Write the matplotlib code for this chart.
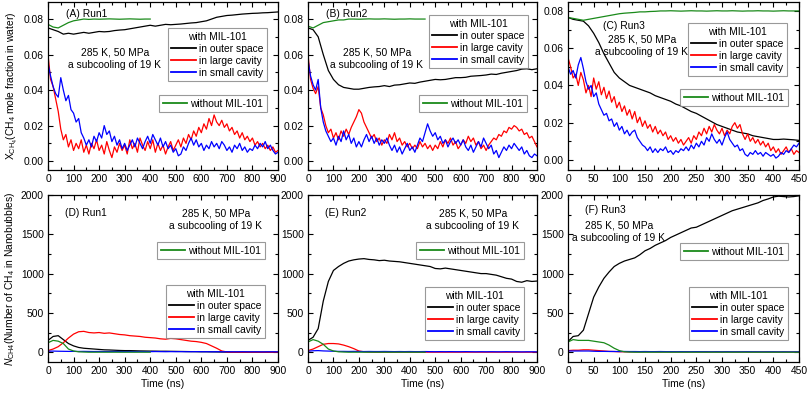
import numpy as np
import matplotlib
matplotlib.use('Agg')
import matplotlib.pyplot as plt
from matplotlib.ticker import MultipleLocator, AutoMinorLocator

plt.rcParams['font.family'] = ['Liberation Sans', 'DejaVu Sans']
plt.rcParams['mathtext.fontset'] = 'custom'
plt.rcParams['mathtext.rm'] = 'Liberation Sans'
plt.rcParams['mathtext.it'] = 'Liberation Sans:italic'
FS = 7.4

# ---------------- data ----------------
t10_900 = np.arange(0, 901, 10)
t20_900 = np.arange(0, 901, 20)
t5_450 = np.arange(0, 451, 5)
t10_450 = np.arange(0, 451, 10)
t20_400 = np.arange(0, 401, 20)
t20_460 = np.arange(0, 461, 20)

# (A) Run1, mole fraction
a_red = [0.060, 0.046, 0.042, 0.035, 0.028, 0.018, 0.012, 0.015, 0.008, 0.012,
         0.006, 0.010, 0.007, 0.012, 0.005, 0.009, 0.004, 0.010, 0.007, 0.012,
         0.006, 0.009, 0.004, 0.011, 0.006, 0.002, 0.008, 0.005, 0.010, 0.006,
         0.009, 0.004, 0.012, 0.007, 0.010, 0.005, 0.013, 0.009, 0.006, 0.011,
         0.007, 0.012, 0.005, 0.010, 0.006, 0.009, 0.004, 0.008, 0.011, 0.006,
         0.009, 0.012, 0.008, 0.013, 0.010, 0.015, 0.012, 0.017, 0.014, 0.019,
         0.016, 0.021, 0.018, 0.024, 0.020, 0.026, 0.022, 0.020, 0.023, 0.019,
         0.021, 0.017, 0.019, 0.015, 0.017, 0.013, 0.016, 0.012, 0.014, 0.011,
         0.013, 0.009, 0.011, 0.008, 0.010, 0.007, 0.009, 0.006, 0.008, 0.005, 0.006]
a_blue = [0.055, 0.048, 0.042, 0.038, 0.036, 0.047, 0.040, 0.034, 0.037, 0.029,
          0.027, 0.022, 0.024, 0.016, 0.013, 0.009, 0.012, 0.008, 0.014, 0.011,
          0.016, 0.013, 0.020, 0.015, 0.017, 0.011, 0.014, 0.009, 0.012, 0.007,
          0.010, 0.006, 0.009, 0.012, 0.008, 0.013, 0.010, 0.007, 0.011, 0.014,
          0.010, 0.015, 0.012, 0.009, 0.013, 0.008, 0.011, 0.007, 0.009, 0.005,
          0.007, 0.003, 0.004, 0.008, 0.006, 0.010, 0.013, 0.009, 0.012, 0.008,
          0.010, 0.006, 0.009, 0.007, 0.011, 0.008, 0.010, 0.007, 0.011, 0.009,
          0.006, 0.008, 0.005, 0.009, 0.007, 0.010, 0.006, 0.008, 0.005, 0.007,
          0.006, 0.009, 0.007, 0.010, 0.008, 0.011, 0.007, 0.009, 0.006, 0.004, 0.005]
a_black = [0.075, 0.074, 0.073, 0.0715, 0.072, 0.0715, 0.072, 0.0725, 0.072, 0.0725,
           0.073, 0.0728, 0.073, 0.0735, 0.0738, 0.074, 0.0745, 0.075, 0.0755, 0.076,
           0.0765, 0.076, 0.0765, 0.077, 0.0768, 0.077, 0.0772, 0.0775, 0.0778, 0.078,
           0.0785, 0.079, 0.080, 0.081, 0.0815, 0.082, 0.0822, 0.0825, 0.0828, 0.083,
           0.0832, 0.0833, 0.0835, 0.0836, 0.0838, 0.084]
a_green = [0.077, 0.0755, 0.075, 0.0765, 0.078, 0.079, 0.0795, 0.080, 0.0798, 0.080,
           0.0799, 0.080, 0.0801, 0.080, 0.0799, 0.080, 0.0801, 0.080, 0.0799, 0.080, 0.080]

# (B) Run2, mole fraction
b_red = [0.060, 0.046, 0.041, 0.038, 0.042, 0.030, 0.026, 0.020, 0.016, 0.018,
         0.013, 0.016, 0.012, 0.017, 0.014, 0.018, 0.015, 0.019, 0.022, 0.025,
         0.029, 0.027, 0.022, 0.019, 0.016, 0.013, 0.015, 0.011, 0.013, 0.009,
         0.012, 0.010, 0.015, 0.012, 0.016, 0.011, 0.013, 0.009, 0.011, 0.008,
         0.010, 0.007, 0.009, 0.007, 0.011, 0.008, 0.010, 0.007, 0.009, 0.006,
         0.009, 0.007, 0.011, 0.008, 0.012, 0.010, 0.013, 0.009, 0.011, 0.007,
         0.009, 0.012, 0.010, 0.014, 0.011, 0.013, 0.009, 0.011, 0.007, 0.009,
         0.006, 0.009, 0.011, 0.013, 0.012, 0.015, 0.014, 0.017, 0.016, 0.019,
         0.018, 0.020, 0.019, 0.017, 0.018, 0.015, 0.016, 0.013, 0.014, 0.011, 0.008]
b_blue = [0.057, 0.048, 0.043, 0.040, 0.046, 0.030, 0.022, 0.017, 0.014, 0.011,
          0.013, 0.009, 0.014, 0.011, 0.017, 0.012, 0.015, 0.010, 0.013, 0.008,
          0.011, 0.008, 0.012, 0.015, 0.011, 0.014, 0.010, 0.013, 0.009, 0.012,
          0.010, 0.013, 0.009, 0.006, 0.009, 0.005, 0.008, 0.004, 0.007, 0.010,
          0.006, 0.008, 0.005, 0.009, 0.013, 0.011, 0.016, 0.021, 0.017, 0.014,
          0.016, 0.012, 0.014, 0.010, 0.012, 0.008, 0.011, 0.013, 0.010, 0.012,
          0.009, 0.012, 0.008, 0.006, 0.009, 0.005, 0.008, 0.011, 0.008, 0.013,
          0.010, 0.007, 0.009, 0.004, 0.006, 0.002, 0.005, 0.008, 0.006, 0.009,
          0.007, 0.010, 0.008, 0.006, 0.008, 0.004, 0.006, 0.003, 0.002, 0.004, 0.003]
b_black = [0.075, 0.074, 0.070, 0.060, 0.051, 0.046, 0.043, 0.0415, 0.041, 0.0405,
           0.0405, 0.041, 0.0415, 0.0418, 0.042, 0.0425, 0.042, 0.0428, 0.043, 0.0435,
           0.044, 0.0438, 0.0445, 0.045, 0.0455, 0.046, 0.0458, 0.046, 0.0465, 0.047,
           0.047, 0.0472, 0.0478, 0.048, 0.0482, 0.0485, 0.049, 0.0488, 0.0495, 0.050,
           0.0505, 0.051, 0.0518, 0.052, 0.0515, 0.052]
b_green = [0.076, 0.075, 0.0765, 0.078, 0.0785, 0.079, 0.0795, 0.0795, 0.080, 0.080,
           0.0799, 0.080, 0.0801, 0.080, 0.080, 0.0801, 0.080, 0.0799, 0.080, 0.080,
           0.0801, 0.080, 0.080, 0.080]

# (C) Run3, mole fraction
c_red = [0.055, 0.050, 0.044, 0.046, 0.040, 0.047, 0.043, 0.036, 0.040, 0.034,
         0.044, 0.038, 0.042, 0.035, 0.039, 0.033, 0.037, 0.031, 0.034, 0.028,
         0.031, 0.026, 0.029, 0.024, 0.027, 0.022, 0.026, 0.020, 0.023, 0.018,
         0.021, 0.017, 0.019, 0.015, 0.018, 0.014, 0.016, 0.013, 0.015, 0.011,
         0.013, 0.010, 0.012, 0.009, 0.011, 0.008, 0.010, 0.012, 0.009, 0.013,
         0.011, 0.015, 0.013, 0.017, 0.014, 0.018, 0.015, 0.019, 0.016, 0.014,
         0.017, 0.013, 0.016, 0.014, 0.018, 0.020, 0.017, 0.019, 0.014, 0.011,
         0.014, 0.010, 0.012, 0.009, 0.011, 0.008, 0.010, 0.007, 0.009, 0.005,
         0.007, 0.004, 0.006, 0.003, 0.005, 0.007, 0.004, 0.006, 0.003, 0.005, 0.004]
c_blue = [0.050, 0.046, 0.048, 0.044, 0.051, 0.055, 0.049, 0.042, 0.038, 0.040,
          0.034, 0.036, 0.030, 0.027, 0.024, 0.025, 0.021, 0.022, 0.018, 0.020,
          0.016, 0.018, 0.014, 0.016, 0.013, 0.015, 0.016, 0.012, 0.010, 0.008,
          0.007, 0.005, 0.007, 0.004, 0.006, 0.004, 0.006, 0.005, 0.007, 0.004,
          0.005, 0.003, 0.005, 0.004, 0.006, 0.005, 0.007, 0.005, 0.008, 0.006,
          0.009, 0.007, 0.010, 0.008, 0.012, 0.010, 0.014, 0.011, 0.009, 0.011,
          0.008, 0.012, 0.015, 0.011, 0.009, 0.007, 0.008, 0.005, 0.006, 0.003,
          0.002, 0.004, 0.003, 0.005, 0.003, 0.004, 0.002, 0.004, 0.003, 0.002,
          0.003, 0.001, 0.002, 0.004, 0.003, 0.005, 0.004, 0.006, 0.008, 0.007, 0.009]
c_black = [0.0765, 0.0755, 0.075, 0.0745, 0.072, 0.068, 0.063, 0.057, 0.052, 0.047,
           0.044, 0.042, 0.040, 0.039, 0.038, 0.037, 0.036, 0.0345, 0.0335, 0.0325,
           0.0315, 0.030, 0.029, 0.0275, 0.026, 0.025, 0.0235, 0.022, 0.0205, 0.019,
           0.018, 0.017, 0.016, 0.015, 0.0145, 0.014, 0.013, 0.0125, 0.012, 0.0115,
           0.011, 0.011, 0.0112, 0.011, 0.0108, 0.0105]
c_green = [0.0765, 0.076, 0.0755, 0.075, 0.0755, 0.076, 0.0765, 0.077, 0.0775, 0.078,
           0.0785, 0.0788, 0.079, 0.0792, 0.0795, 0.0795, 0.0797, 0.0798, 0.080, 0.080,
           0.0801, 0.080, 0.0799, 0.080, 0.0801, 0.080, 0.080, 0.0799, 0.080, 0.0801,
           0.080, 0.080, 0.0801, 0.080, 0.0799, 0.080, 0.080, 0.0801, 0.080, 0.080,
           0.0799, 0.080, 0.0801, 0.080, 0.080, 0.080]

# (D) Run1, number in nanobubbles
d_black = [150, 200, 210, 160, 110, 80, 60, 50, 45, 40,
           35, 30, 28, 25, 22, 20, 20, 18, 16, 15,
           14, 13, 12, 12, 11, 10, 9, 8, 7, 6,
           5, 5, 4, 3, 2, 1, 0, 0, 0, 0,
           0, 0, 0, 0, 0, 0]
d_green = [120, 150, 140, 110, 40, 15, 5, 2, 0, 0,
           0, 0, 0, 0, 0, 0, 0, 0, 0, 0, 0]
d_red = [20, 40, 70, 120, 180, 230, 260, 265, 250, 245,
         250, 240, 245, 235, 225, 220, 210, 205, 200, 190,
         185, 180, 170, 165, 175, 170, 160, 150, 140, 135,
         125, 110, 80, 50, 15, 3, 0, 0, 0, 0,
         0, 0, 0, 0, 0, 0]
d_blue = [12, 14, 12, 11, 10, 10, 9, 10, 9, 8,
          9, 8, 8, 9, 8, 7, 8, 7, 8, 7,
          7, 8, 7, 6, 7, 6, 7, 6, 6, 7,
          6, 6, 5, 6, 5, 6, 5, 5, 6, 5,
          5, 5, 4, 5, 5, 4]

# (E) Run2, number in nanobubbles
e_black = [150, 190, 300, 650, 900, 1040, 1090, 1130, 1160, 1175,
           1185, 1190, 1180, 1175, 1165, 1170, 1160, 1155, 1150, 1140,
           1130, 1120, 1110, 1100, 1090, 1065, 1060, 1070, 1060, 1050,
           1040, 1030, 1020, 1010, 1000, 1000, 990, 980, 960, 940,
           930, 900, 890, 910, 900, 905]
e_green = [130, 160, 140, 100, 40, 15, 5, 2, 0, 0,
           0, 0, 0, 0, 0, 0, 0, 0, 0, 0,
           0, 0, 0, 0]
e_red = [20, 40, 70, 100, 110, 110, 105, 90, 70, 45,
         15, 5, 2, 0, 0, 0, 0, 0, 0, 0,
         0, 0, 0, 0, 0, 0, 0, 0, 0, 0,
         0, 0, 0, 0, 0, 0, 0, 0, 0, 0,
         0, 0, 0, 0, 0, 0]
e_blue = [12, 18, 20, 16, 14, 12, 10, 10, 9, 10,
          9, 8, 9, 8, 8, 9, 8, 7, 8, 7,
          8, 7, 7, 8, 7, 6, 7, 6, 7, 6,
          6, 7, 6, 5, 6, 5, 6, 5, 5, 6,
          5, 5, 4, 5, 5, 4]

# (F) Run3, number in nanobubbles
f_black = [135, 200, 210, 280, 490, 700, 830, 940, 1020, 1090,
           1130, 1160, 1180, 1200, 1240, 1290, 1320, 1360, 1390, 1420,
           1460, 1490, 1520, 1550, 1580, 1590, 1620, 1650, 1680, 1710,
           1740, 1770, 1800, 1820, 1840, 1860, 1880, 1900, 1930, 1950,
           1975, 1985, 1980, 1975, 1980, 1990]
f_green = [130, 160, 150, 150, 150, 140, 130, 120, 90, 50,
           20, 5, 2, 0, 0, 0, 0, 0, 0, 0,
           0, 0, 0, 0, 0, 0, 0, 0, 0, 0,
           0, 0, 0, 0, 0, 0, 0, 0, 0, 0,
           0, 0, 0, 0, 0, 0]
f_red = [20, 25, 25, 30, 30, 25, 20, 15, 10, 8,
         5, 5, 4, 5, 4, 4, 5, 4, 3, 4,
         3, 4, 3, 3, 4, 3, 3, 2, 3, 3,
         2, 3, 2, 2, 3, 2, 2, 2, 3, 2,
         2, 2, 2, 2, 2, 2]
f_blue = [15, 15, 15, 15, 15, 12, 10, 10, 9, 9,
          8, 9, 8, 8, 7, 8, 7, 7, 8, 7,
          7, 6, 7, 6, 6, 7, 6, 6, 5, 6,
          5, 6, 5, 5, 5, 6, 5, 5, 4, 5,
          5, 4, 5, 4, 4, 5]

run_labels = ['(A) Run1', '(B) Run2', '(C) Run3', '(D) Run1', '(E) Run2', '(F) Run3']
cond_text = '285 K, 50 MPa\na subcooling of 19 K'
with_labels = ['in outer space', 'in large cavity', 'in small cavity']

BLACK, RED, BLUE, GREEN = 'black', '#ff0000', '#0000ff', '#1a8a1a'
LW = 0.9

W, H = 808, 393
fig = plt.figure(figsize=(W / 100, H / 100), dpi=100)


def make_ax(x0, y_top, y_bot, x1):
    return fig.add_axes([x0 / W, 1 - y_bot / H, (x1 - x0) / W, (y_bot - y_top) / H])


def style(ax, xmax, xmaj, ymin, ymax, ymaj):
    ax.set_xlim(0, xmax)
    ax.set_ylim(ymin, ymax)
    ax.xaxis.set_major_locator(MultipleLocator(xmaj))
    ax.yaxis.set_major_locator(MultipleLocator(ymaj))
    ax.xaxis.set_minor_locator(AutoMinorLocator(2))
    ax.yaxis.set_minor_locator(AutoMinorLocator(2))
    ax.tick_params(which='both', direction='in', top=True, right=True,
                   labelsize=FS, width=0.8, pad=3)
    ax.tick_params(which='major', length=3.5)
    ax.tick_params(which='minor', length=2)
    for s in ax.spines.values():
        s.set_linewidth(0.9)


def legends(ax, with_anchor, without_anchor):
    hs = [plt.Line2D([], [], color=c, lw=1.3) for c in (BLACK, RED, BLUE)]
    common = dict(fontsize=FS, frameon=True, fancybox=False, borderaxespad=0,
                  handlelength=2.4, handletextpad=0.3, labelspacing=0.2,
                  borderpad=0.35, loc='upper right')
    l1 = ax.legend(hs, with_labels, title='with MIL-101', title_fontsize=FS,
                   bbox_to_anchor=with_anchor, **common)
    l1.get_frame().set_edgecolor('#808080')
    l1.get_frame().set_linewidth(0.8)
    ax.add_artist(l1)
    g = [plt.Line2D([], [], color=GREEN, lw=1.3)]
    l2 = ax.legend(g, ['without MIL-101'], bbox_to_anchor=without_anchor, **common)
    l2.get_frame().set_edgecolor('#808080')
    l2.get_frame().set_linewidth(0.8)


xs = [(48, 278), (308, 537), (568, 799)]
top_y, bot_y = (2, 170), (195, 362)

# ---- top row ----
top_sets = [
    (t20_900, a_black, t10_900, a_red, t10_900, a_blue, t20_400, a_green),
    (t20_900, b_black, t10_900, b_red, t10_900, b_blue, t20_460, b_green),
    (t10_450, c_black, t5_450, c_red, t5_450, c_blue, t10_450, c_green),
]
top_axes = []
for i, (x0, x1) in enumerate(xs):
    ax = make_ax(x0, top_y[0], top_y[1], x1)
    tk, k, tr, r, tb, b, tg, g = top_sets[i]
    ax.plot(tk, k, color=BLACK, lw=LW)
    ax.plot(tr, r, color=RED, lw=LW)
    ax.plot(tb, b, color=BLUE, lw=LW)
    ax.plot(tg, g, color=GREEN, lw=LW)
    if i < 2:
        style(ax, 900, 100, -0.005, 0.0896, 0.02)
    else:
        style(ax, 450, 50, -0.0054, 0.0848, 0.02)
    ax.yaxis.set_major_formatter(matplotlib.ticker.FormatStrFormatter('%.2f'))
    top_axes.append(ax)

ax = top_axes[0]
ax.text(0.08, 0.93, run_labels[0], transform=ax.transAxes, fontsize=FS, va='center')
ax.text(0.29, 0.66, cond_text, transform=ax.transAxes, fontsize=FS, ha='center',
        va='center', linespacing=1.3)
legends(ax, (0.952, 0.845), (0.952, 0.446))
ax.set_ylabel(r'X$_{\mathrm{CH}_4}$(CH$_4$ mole fraction in water)', fontsize=FS, labelpad=3)

ax = top_axes[1]
ax.text(0.08, 0.93, run_labels[1], transform=ax.transAxes, fontsize=FS, va='center')
ax.text(0.30, 0.66, cond_text, transform=ax.transAxes, fontsize=FS, ha='center',
        va='center', linespacing=1.3)
legends(ax, (0.961, 0.923), (0.956, 0.446))

ax = top_axes[2]
ax.text(0.24, 0.86, run_labels[2], transform=ax.transAxes, fontsize=FS, ha='center', va='center')
ax.text(0.32, 0.74, cond_text, transform=ax.transAxes, fontsize=FS, ha='center',
        va='center', linespacing=1.3)
legends(ax, (0.948, 0.875), (0.952, 0.482))

# ---- bottom row ----
bot_sets = [
    (t20_900, d_black, t20_900, d_red, t20_900, d_blue, t20_400, d_green),
    (t20_900, e_black, t20_900, e_red, t20_900, e_blue, t20_460, e_green),
    (t10_450, f_black, t10_450, f_red, t10_450, f_blue, t10_450, f_green),
]
bot_axes = []
for i, (x0, x1) in enumerate(xs):
    ax = make_ax(x0, bot_y[0], bot_y[1], x1)
    tk, k, tr, r, tb, b, tg, g = bot_sets[i]
    ax.plot(tk, k, color=BLACK, lw=LW)
    ax.plot(tr, r, color=RED, lw=LW)
    ax.plot(tb, b, color=BLUE, lw=LW)
    ax.plot(tg, g, color=GREEN, lw=LW)
    if i < 2:
        style(ax, 900, 100, -125, 2000, 500)
    else:
        style(ax, 450, 50, -125, 2000, 500)
    ax.set_xlabel('Time (ns)', fontsize=FS, labelpad=2)
    bot_axes.append(ax)

ax = bot_axes[0]
ax.text(0.075, 0.89, run_labels[3], transform=ax.transAxes, fontsize=FS, va='center')
ax.text(0.73, 0.85, cond_text, transform=ax.transAxes, fontsize=FS, ha='center',
        va='center', linespacing=1.3)
legends(ax, (0.943, 0.461), (0.943, 0.719))
ax.set_ylabel(r'$N_{\mathrm{CH4}}$(Number of CH$_4$ in Nanobubbles)', fontsize=FS, labelpad=3)

ax = bot_axes[1]
ax.text(0.075, 0.89, run_labels[4], transform=ax.transAxes, fontsize=FS, va='center')
ax.text(0.72, 0.85, cond_text, transform=ax.transAxes, fontsize=FS, ha='center',
        va='center', linespacing=1.3)
legends(ax, (0.943, 0.449), (0.943, 0.719))

ax = bot_axes[2]
ax.text(0.075, 0.91, run_labels[5], transform=ax.transAxes, fontsize=FS, va='center')
ax.text(0.22, 0.78, cond_text, transform=ax.transAxes, fontsize=FS, ha='center',
        va='center', linespacing=1.3)
legends(ax, (0.952, 0.449), (0.952, 0.713))

fig.savefig('out.png', dpi=100)
